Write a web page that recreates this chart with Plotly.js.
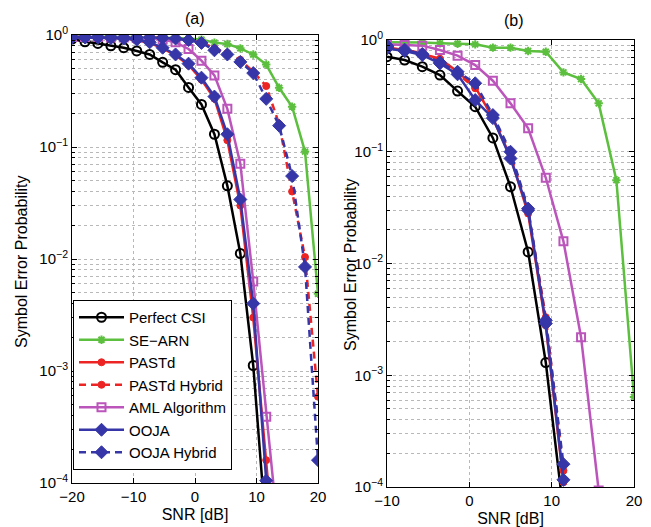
<!DOCTYPE html>
<html>
<head>
<meta charset="utf-8">
<script src="https://cdn.plot.ly/plotly-3.0.1.min.js"></script>
<style>html,body{margin:0;padding:0;background:#fff;}#chart{width:651px;height:527px;}</style>
</head>
<body>
<div id="chart"></div>
<script>
// ---------- data ----------
var seriesNames = ['Perfect CSI', 'SE\u2212ARN', 'PASTd', 'PASTd Hybrid', 'AML Algorithm', 'OOJA', 'OOJA Hybrid'];

// panel (a): SNR points
var snrA = [-20, -17.89, -15.79, -13.68, -11.58, -9.47, -7.37, -5.26, -3.16, -1.05,
            1.05, 3.16, 5.26, 7.37, 9.47, 11.58, 13.68, 15.79, 17.89, 20];
var perfectA = [0.92, 0.87, 0.84, 0.80, 0.77, 0.72, 0.67, 0.57, 0.49, 0.34,
                0.24, 0.13, 0.045, 0.0112, 0.00112, 0.000036, null, null, null, null];
var searnA   = [0.97, 0.97, 0.97, 0.96, 0.96, 0.96, 0.95, 0.95, 0.94, 0.93,
                0.91, 0.855, 0.83, 0.76, 0.67, 0.545, 0.338, 0.229, 0.091, 0.0049];
var pastdA   = [0.95, 0.95, 0.95, 0.94, 0.93, 0.90, 0.85, 0.76, 0.66, 0.54,
                0.40, 0.27, 0.115, 0.030, 0.003, 0.00016, 0.000008, null, null, null];
var pastdHA  = [0.96, 0.96, 0.96, 0.96, 0.95, 0.95, 0.95, 0.94, 0.93, 0.90,
                0.86, 0.76, 0.69, 0.60, 0.47, 0.35, 0.16, 0.04, 0.0104, 0.00059];
var amlA     = [0.96, 0.96, 0.96, 0.95, 0.95, 0.94, 0.93, 0.91, 0.86, 0.75,
                0.59, 0.436, 0.219, 0.071, 0.0063, 0.00039, 0.00003, null, null, null];
var oojaA    = [0.95, 0.95, 0.95, 0.94, 0.93, 0.91, 0.86, 0.77, 0.67, 0.555,
                0.416, 0.282, 0.13, 0.034, 0.004, 0.000105, null, null, null, null];
var oojaHA   = [0.96, 0.96, 0.96, 0.96, 0.95, 0.95, 0.95, 0.94, 0.93, 0.90,
                0.85, 0.73, 0.67, 0.575, 0.457, 0.269, 0.155, 0.055, 0.0085, 0.00016];

// panel (b): SNR points
var snrB = [-10, -7.857, -5.714, -3.571, -1.429, 0.714, 2.857, 5, 7.143, 9.286,
            11.43, 13.57, 15.71, 17.86, 20];
var perfectB = [0.709, 0.662, 0.577, 0.486, 0.349, 0.253, 0.133, 0.0486, 0.0127, 0.0013,
                0.00006, null, null, null, null];
var searnB   = [0.953, 0.953, 0.95, 0.934, 0.927, 0.914, 0.854, 0.854, 0.797, 0.786,
                0.513, 0.448, 0.271, 0.0557, 0.00064];
var pastdB   = [0.86, 0.81, 0.75, 0.68, 0.52, 0.38, 0.20, 0.09, 0.028, 0.0028,
                0.00011, null, null, null, null];
var pastdHB  = [0.87, 0.82, 0.76, 0.66, 0.50, 0.37, 0.21, 0.095, 0.030, 0.0033,
                0.00014, null, null, null, null];
var amlB     = [0.915, 0.902, 0.89, 0.814, 0.724, 0.597, 0.432, 0.271, 0.162, 0.0585,
                0.0158, 0.00219, 0.000093, null, null];
var oojaB    = [0.84, 0.797, 0.734, 0.618, 0.493, 0.29, 0.20, 0.087, 0.030, 0.0029,
                0.000116, null, null, null, null];
var oojaHB   = [0.89, 0.82, 0.75, 0.63, 0.52, 0.41, 0.213, 0.10, 0.031, 0.0031,
                0.00016, null, null, null, null];

var yTickVals = [1e-4, 1e-3, 1e-2, 1e-1, 1];
var yTickText = ['10<sup>\u22124</sup>', '10<sup>\u22123</sup>', '10<sup>\u22122</sup>', '10<sup>\u22121</sup>', '10<sup>0</sup>'];
var xTicksA = [-20, -10, 0, 10, 20];
var xTicksB = [-10, 0, 10, 20];
var yTitle = 'Symbol Error Probability';
var xTitle = 'SNR [dB]';
var panelTitles = ['(a)', '(b)'];

// ---------- styles ----------
var styles = [
  {color: '#000000', dash: 'solid', symbol: 'circle-open', size: 9, mlw: 2},
  {color: '#5cbf3e', dash: 'solid', symbol: 'asterisk-open', size: 7, mlw: 2},
  {color: '#ec2424', dash: 'solid', symbol: 'circle', size: 7, mlw: 1},
  {color: '#ec2424', dash: '7px,5px', symbol: 'circle', size: 7, mlw: 1},
  {color: '#bb55bb', dash: 'solid', symbol: 'square-open', size: 8, mlw: 2},
  {color: '#3636a8', dash: 'solid', symbol: 'diamond', size: 10, mlw: 1},
  {color: '#3636a8', dash: '7px,5px', symbol: 'diamond', size: 10, mlw: 1}
];
var dataA = [perfectA, searnA, pastdA, pastdHA, amlA, oojaA, oojaHA];
var dataB = [perfectB, searnB, pastdB, pastdHB, amlB, oojaB, oojaHB];

var traces = [];
function mk(xs, ys, i, xa, ya, show) {
  var s = styles[i];
  return {
    x: xs, y: ys, type: 'scatter', mode: 'lines+markers', name: seriesNames[i],
    xaxis: xa, yaxis: ya, showlegend: show, connectgaps: false,
    line: {color: s.color, width: 2.5, dash: s.dash},
    marker: {symbol: s.symbol, size: s.size, color: s.color, line: {color: s.color, width: s.mlw}}
  };
}
for (var i = 0; i < 7; i++) traces.push(mk(snrA, dataA[i], i, 'x', 'y', true));
for (var j = 0; j < 7; j++) traces.push(mk(snrB, dataB[j], j, 'x2', 'y2', false));

var FONT = 'Liberation Sans, Arial, Helvetica, sans-serif';
var GRID = '#b8b8b8';
function xax(dom, range, ticks, anchor) {
  return {
    domain: dom, range: range, anchor: anchor, tickvals: ticks, tickmode: 'array',
    showgrid: true, gridcolor: GRID, griddash: 'dot', gridwidth: 1,
    zeroline: false, showline: true, linecolor: '#000', linewidth: 1, mirror: 'ticks',
    ticks: 'inside', ticklen: 5, tickcolor: '#000',
    tickfont: {family: FONT, size: 15, color: '#000'},
    title: {text: xTitle, font: {family: FONT, size: 16, color: '#000'}, standoff: 4}
  };
}
function yax(dom, anchor) {
  return {
    domain: dom, type: 'log', range: [-4, 0], anchor: anchor,
    tickmode: 'array', tickvals: yTickVals, ticktext: yTickText,
    showgrid: true, gridcolor: GRID, griddash: 'dot', gridwidth: 1,
    minor: {dtick: 'D1', showgrid: true, gridcolor: GRID, griddash: 'dot', gridwidth: 1,
            ticks: 'inside', ticklen: 3, tickcolor: '#000'},
    zeroline: false, showline: true, linecolor: '#000', linewidth: 1, mirror: 'ticks',
    ticks: 'inside', ticklen: 5, tickcolor: '#000',
    tickfont: {family: FONT, size: 15, color: '#000'}
  };
}

var layout = {
  width: 651, height: 527,
  margin: {l: 0, r: 0, t: 0, b: 0},
  paper_bgcolor: '#fff', plot_bgcolor: '#fff',
  font: {family: FONT, color: '#000'},
  xaxis: xax([72/651, 318/651], [-20, 20], xTicksA, 'y'),
  yaxis: yax([1 - 483/527, 1 - 35/527], 'x'),
  xaxis2: xax([387/651, 634/651], [-10, 20], xTicksB, 'y2'),
  yaxis2: yax([1 - 487/527, 1 - 40/527], 'x2'),
  showlegend: true,
  legend: {
    x: 73/651, y: 1 - 300/527, xanchor: 'left', yanchor: 'top',
    bgcolor: '#fff', bordercolor: '#000', borderwidth: 1,
    font: {family: FONT, size: 15, color: '#000'},
    itemwidth: 45, tracegroupgap: 0
  },
  annotations: [
    {text: panelTitles[0], x: 195/651, y: 1 - 18/527, xref: 'paper', yref: 'paper', showarrow: false,
     xanchor: 'center', yanchor: 'middle', font: {family: FONT, size: 16, color: '#000'}},
    {text: panelTitles[1], x: 514/651, y: 1 - 21/527, xref: 'paper', yref: 'paper', showarrow: false,
     xanchor: 'center', yanchor: 'middle', font: {family: FONT, size: 16, color: '#000'}},
    {text: yTitle, x: 22/651, y: 1 - 262/527, xref: 'paper', yref: 'paper', showarrow: false,
     textangle: -90, xanchor: 'center', yanchor: 'middle', font: {family: FONT, size: 16, color: '#000'}},
    {text: yTitle, x: 350/651, y: 1 - 265/527, xref: 'paper', yref: 'paper', showarrow: false,
     textangle: -90, xanchor: 'center', yanchor: 'middle', font: {family: FONT, size: 16, color: '#000'}}
  ]
};

Plotly.newPlot('chart', traces, layout, {displayModeBar: false, staticPlot: true});
</script>
</body>
</html>
